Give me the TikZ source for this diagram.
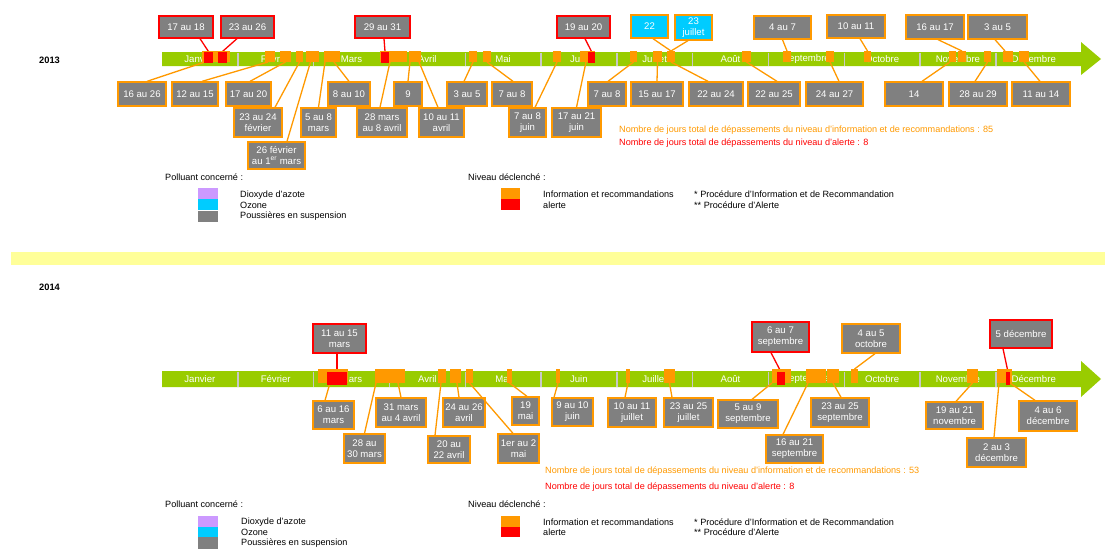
\documentclass[tikz,border=0pt]{standalone}
\usepackage{fontspec}
\setmainfont{Liberation Sans}
\definecolor{oC}{HTML}{FF9900}
\definecolor{rC}{HTML}{FF0000}
\definecolor{gC}{HTML}{808080}
\definecolor{cC}{HTML}{00CCFF}
\definecolor{pC}{HTML}{CC99FF}
\definecolor{grC}{HTML}{99CC00}
\definecolor{yC}{HTML}{FFFF99}
\definecolor{sepC}{HTML}{C8C8C8}
\newcommand\bxfont{\fontsize{9.6}{10.8}\selectfont}
\newcommand\lgfont{\fontsize{9.1}{10}\selectfont}
\newcommand\bx[7]{%
  \pgfmathsetmacro\bxcx{(#3+#5)/2}\pgfmathsetmacro\bxcy{(#4+#6)/2}%
  \pgfmathsetmacro\bxw{#5-#3}\pgfmathsetmacro\bxh{#6-#4}%
  \node[#1, minimum width=\bxw pt, minimum height=\bxh pt] (#2) at (\bxcx,\bxcy) {#7};}
\newcommand\mk[6]{\bx{#1}{#2}{#3}{#4}{#5}{#6}{}}
\begin{document}
\begin{tikzpicture}[x=1pt,y=-1pt,
  obox/.style={draw=oC, line width=1.3pt, fill=gC, text=white, font=\bxfont, inner sep=0pt, align=center},
  rbox/.style={obox, draw=rC},
  cbox/.style={obox, fill=cC},
  omk/.style={fill=oC, inner sep=0pt, outer sep=0pt},
  rmk/.style={fill=rC, inner sep=0pt, outer sep=0pt},
  oln/.style={draw=oC, line width=1.3pt},
  rln/.style={draw=rC, line width=1.3pt},
  mlab/.style={text=white, font=\bxfont, inner sep=0pt},
  sepl/.style={draw=sepC, line width=1.4pt},
  gbar/.style={fill=grC},
  lg/.style={font=\lgfont, anchor=west, inner sep=0pt},
  sw/.style={inner sep=0pt, outer sep=0pt},
  yr/.style={font=\fontsize{9.3}{11}\selectfont\bfseries, anchor=west, inner sep=0pt}]
\useasboundingbox (0,0) rectangle (1105,549);

% ---------------- 2013 ----------------
\node[yr] (y13) at (39,60) {2013};
\fill[gbar] (162,52) -- (1081,52) -- (1081,42) -- (1101,59) -- (1081,75) -- (1081,66) -- (162,66) -- cycle;
\foreach \i in {1,...,11} \draw[sepl] ({162+75.8*\i},52.5) -- ({162+75.8*\i},65.5);
\foreach \m [count=\i from 0] in {Janvier,Février,Mars,Avril,Mai,Juin,Juillet,Août,Septembre,Octobre,Novembre,Décembre}
  \node[mlab] (ma\i) at ({162+75.8*(\i+0.5)},59) {\m};

% markers 2013
\mk{omk}{m1}{202}{51}{230}{62}
\mk{omk}{m2}{265}{51}{275}{62}
\mk{omk}{m3}{280}{51}{291}{62}
\mk{omk}{m4}{296}{51}{303}{62}
\mk{omk}{m5}{306}{51}{319}{62}
\mk{omk}{m6}{324}{51}{340}{62}
\mk{omk}{m7}{380}{51}{407}{62}
\mk{omk}{m8}{409}{51}{421}{62}
\mk{omk}{m9}{469}{51}{477}{62}
\mk{omk}{m10}{483}{51}{491}{62}
\mk{omk}{m11}{553}{51}{561}{62}
\mk{omk}{m12}{580}{51}{595}{62}
\mk{omk}{m13}{630}{51}{637}{62}
\mk{omk}{m14}{653}{51}{662}{62}
\mk{omk}{m15}{667}{51}{675}{62}
\mk{omk}{m16}{742}{51}{751}{62}
\mk{omk}{m17}{783}{51}{791}{62}
\mk{omk}{m18}{826}{51}{834}{62}
\mk{omk}{m19}{864}{51}{871}{62}
\mk{omk}{m20}{949}{51}{956}{62}
\mk{omk}{m21}{958}{51}{966}{62}
\mk{omk}{m22}{984}{51}{991}{62}
\mk{omk}{m23}{1003}{51}{1013}{62}
\mk{omk}{m24}{1019}{51}{1029}{62}
\mk{rmk}{r1}{204}{51.5}{213}{62.5}
\mk{rmk}{r2}{218}{51.5}{227}{62.5}
\mk{rmk}{r3}{381}{51.5}{389}{62.5}
\mk{rmk}{r4}{588}{51.5}{595}{62.5}

% boxes 2013 top
\bx{rbox}{T1}{159}{16}{213}{38}{17 au 18}
\bx{rbox}{T2}{221}{16}{274}{38}{23 au 26}
\bx{rbox}{T3}{355}{16}{410}{38}{29 au 31}
\bx{rbox}{T4}{557}{16}{610}{38}{19 au 20}
\bx{cbox}{T5}{631}{15}{668}{38}{22}
\bx{cbox}{T6}{675}{15}{712}{40}{23\\juillet}
\bx{obox}{T7}{754}{16}{811}{39}{4 au 7}
\bx{obox}{T8}{827}{15}{885}{38}{10 au 11}
\bx{obox}{T9}{906}{15}{964}{39}{16 au 17}
\bx{obox}{T10}{968}{15}{1027}{39}{3 au 5}
% boxes 2013 bottom
\bx{obox}{B1}{118}{82}{166}{106}{16 au 26}
\bx{obox}{B2}{172}{82}{218}{106}{12 au 15}
\bx{obox}{B3}{226}{82}{271}{106}{17 au 20}
\bx{obox}{B4}{234}{108}{282}{137}{23 au 24\\février}
\bx{obox}{B5}{248}{142}{305}{169}{26 février\\au 1\textsuperscript{er} mars}
\bx{obox}{B6}{301}{108}{336}{137}{5 au 8\\mars}
\bx{obox}{B7}{328}{82}{370}{106}{8 au 10}
\bx{obox}{B8}{357}{108}{407}{137}{28 mars\\au 8 avril}
\bx{obox}{B9}{394}{82}{422}{106}{9}
\bx{obox}{B10}{419}{108}{464}{137}{10 au 11\\avril}
\bx{obox}{B11}{447}{82}{487}{106}{3 au 5}
\bx{obox}{B12}{492}{82}{532}{106}{7 au 8}
\bx{obox}{B13}{509}{108}{546}{137}{7 au 8\\juin}
\bx{obox}{B14}{552}{108}{601}{137}{17 au 21\\juin}
\bx{obox}{B15}{588}{82}{626}{106}{7 au 8}
\bx{obox}{B16}{631}{82}{683}{106}{15 au 17}
\bx{obox}{B17}{689}{82}{743}{106}{22 au 24}
\bx{obox}{B18}{748}{82}{800}{106}{22 au 25}
\bx{obox}{B19}{806}{82}{863}{106}{24 au 27}
\bx{obox}{B20}{885}{82}{943}{106}{14}
\bx{obox}{B21}{949}{82}{1007}{106}{28 au 29}
\bx{obox}{B22}{1012}{82}{1070}{106}{11 au 14}

% connectors 2013
\draw[rln] ([xshift=14]T1.south) -- (r1.north);
\draw[rln] ([xshift=-10.5]T2.south) -- (r2.north);
\draw[rln] ([xshift=1.5]T3.south) -- (r3.north);
\draw[rln] ([xshift=1.5]T4.south) -- (r4.north);
\draw[oln] ([xshift=3.5]T5.south) -- (m15.north);
\draw[oln] ([xshift=-5.5]T6.south) -- (m15.north);
\draw[oln] (T7.south) -- (m17.north);
\draw[oln] ([xshift=4]T8.south) -- (m19.north);
\draw[oln] ([xshift=3]T9.south) -- (m21.north);
\draw[oln] ([xshift=-2.5]T10.south) -- ([xshift=-3]m23.north);
\draw[oln] ([xshift=5]B1.north) -- ([xshift=-11]m1.south);
\draw[oln] ([xshift=7]B2.north) -- ([xshift=-2]m2.south);
\draw[oln] ([xshift=1.5]B3.north) -- (m3.south);
\draw[oln] ([xshift=17]B4.north) -- (m4.south);
\draw[oln] ([xshift=10.5]B5.north) -- ([xshift=-2]m5.south);
\draw[oln] (B6.north) -- ([xshift=-7]m6.south);
\draw[oln] (B7.north) -- ([xshift=2]m6.south);
\draw[oln] ([xshift=-2]B8.north) -- ([xshift=-3.5]m7.south);
\draw[oln] (B9.north) -- ([xshift=-5]m8.south);
\draw[oln] ([xshift=-3.5]B10.north) -- ([xshift=4]m8.south);
\draw[oln] ([xshift=-3]B11.north) -- (m9.south);
\draw[oln] ([xshift=1]B12.north) -- (m10.south);
\draw[oln] ([xshift=7.5]B13.north) -- (m11.south);
\draw[oln] (B14.north) -- ([xshift=-1.5]m12.south);
\draw[oln] ([xshift=1]B15.north) -- (m13.south);
\draw[oln] (B16.north) -- (m14.south);
\draw[oln] ([xshift=-8]B17.north) -- (m15.south);
\draw[oln] ([xshift=3]B18.north) -- (m16.south);
\draw[oln] ([xshift=4.5]B19.north) -- (m18.south);
\draw[oln] ([xshift=8]B20.north) -- ([xshift=-2.5]m20.south);
\draw[oln] ([xshift=-3]B21.north) -- (m22.south);
\draw[oln] ([xshift=-1]B22.north) -- (m24.south);
% markers redrawn on top of connectors
\foreach \n in {m1,m2,m3,m4,m5,m6,m7,m8,m9,m10,m11,m12,m13,m14,m15,m16,m17,m18,m19,m20,m21,m22,m23,m24}
  \fill[oC] (\n.north west) rectangle (\n.south east);
\foreach \n in {r1,r2,r3,r4} \fill[rC] (\n.north west) rectangle (\n.south east);

\node[lg, text=oC] (c13a) at (619,130) {Nombre de jours total de dépassements du niveau d'information et de recommandations : 85};
\node[lg, text=rC] (c13b) at (619,143) {Nombre de jours total de dépassements du niveau d'alerte : 8};

% legend 2013
\node[lg] (p13) at (165,177) {Polluant concerné :};
\bx{sw, fill=pC}{s13a}{198}{188}{218}{199}{}
\bx{sw, fill=cC}{s13b}{198}{199}{218}{209.5}{}
\bx{sw, fill=gC}{s13c}{198}{211}{218}{222}{}
\node[lg] (l13a) at (240,195) {Dioxyde d'azote};
\node[lg] (l13b) at (240,205.5) {Ozone};
\node[lg] (l13c) at (240,216.5) {Poussières en suspension};
\node[lg] (n13) at (468,177) {Niveau déclenché :};
\bx{sw, fill=oC}{s13d}{501}{188}{520}{199}{}
\bx{sw, fill=rC}{s13e}{501}{199}{520}{210}{}
\node[lg] (l13d) at (543,194) {Information et recommandations};
\node[lg] (l13e) at (543,205) {alerte};
\node[lg] (l13f) at (694,194) {* Procédure d'Information et de Recommandation};
\node[lg] (l13g) at (694,205) {** Procédure d'Alerte};

% separator band
\fill[yC] (11,252) rectangle (1105,265);

% ---------------- 2014 ----------------
\node[yr] (y14) at (39,287) {2014};
\fill[gbar] (162,371) -- (1081,371) -- (1081,361) -- (1101,379) -- (1081,397) -- (1081,387) -- (162,387) -- cycle;
\foreach \i in {1,...,11} \draw[sepl] ({162+75.8*\i},371.5) -- ({162+75.8*\i},386.5);
\foreach \m [count=\i from 0] in {Janvier,Février,Mars,Avril,Mai,Juin,Juillet,Août,Septembre,Octobre,Novembre,Décembre}
  \node[mlab] (mb\i) at ({162+75.8*(\i+0.5)},379) {\m};

\mk{omk}{n1}{318}{369}{348}{383}
\mk{omk}{n2}{375}{369}{388}{383}
\mk{omk}{n3}{388}{369}{405}{383}
\mk{omk}{n4}{438}{369}{446}{383}
\mk{omk}{n5}{450}{369}{461}{383}
\mk{omk}{n6}{466}{369}{473}{383}
\mk{omk}{n7}{507}{369}{512}{383}
\mk{omk}{n8}{556}{369}{560}{383}
\mk{omk}{n9}{626}{369}{630}{383}
\mk{omk}{n10}{664}{369}{675}{383}
\mk{omk}{n11}{772}{369}{791}{383}
\mk{omk}{n12}{806}{369}{826}{383}
\mk{omk}{n13}{827}{369}{839}{383}
\mk{omk}{n14}{851}{369}{858}{383}
\mk{omk}{n15}{967}{369}{978}{383}
\mk{omk}{n16}{997}{369}{1003}{383}
\mk{omk}{n17}{1003}{369}{1012}{383}
\mk{rmk}{q1}{327}{372}{347}{385}
\mk{rmk}{q2}{777}{372}{785}{385}
\mk{rmk}{q3}{1006}{372}{1010}{385}

\bx{rbox}{U1}{313}{324}{366}{353}{11 au 15\\mars}
\bx{rbox}{U2}{752}{322}{809}{352}{6 au 7\\septembre}
\bx{obox}{U3}{842}{324}{900}{353}{4 au 5\\octobre}
\bx{rbox}{U4}{990}{320}{1052}{348}{5 décembre}

\bx{obox}{V1}{313}{401}{354}{429}{6 au 16\\mars}
\bx{obox}{V2}{344}{434}{385}{463}{28 au\\30 mars}
\bx{obox}{V3}{376}{398}{426}{427}{31 mars\\au 4 avril}
\bx{obox}{V4}{428}{436}{470}{463}{20 au\\22 avril}
\bx{obox}{V5}{443}{398}{485}{427}{24 au 26\\avril}
\bx{obox}{V6}{498}{434}{539}{463}{1er au 2\\mai}
\bx{obox}{V7}{512}{397}{539}{425}{19\\mai}
\bx{obox}{V8}{552}{398}{593}{426}{9 au 10\\juin}
\bx{obox}{V9}{608}{398}{656}{427}{10 au 11\\juillet}
\bx{obox}{V10}{664}{398}{713}{427}{23 au 25\\juillet}
\bx{obox}{V11}{718}{400}{778}{428}{5 au 9\\septembre}
\bx{obox}{V12}{766}{435}{823}{463}{16 au 21\\septembre}
\bx{obox}{V13}{811}{398}{869}{427}{23 au 25\\septembre}
\bx{obox}{V14}{926}{402}{983}{429}{19 au 21\\novembre}
\bx{obox}{V15}{967}{438}{1026}{467}{2 au 3\\décembre}
\bx{obox}{V16}{1019}{401}{1077}{431}{4 au 6\\décembre}

\draw[rln] ([xshift=-2.5]U1.south) -- (q1.north);
\draw[rln] ([xshift=-9.5]U2.south) -- (q2.north);
\draw[oln] ([xshift=4]U3.south) -- (n14.north);
\draw[rln] ([xshift=-18]U4.south) -- (q3.north);
\draw[oln] ([xshift=-8.5]V1.north) -- ([xshift=-3]n1.south);
\draw[oln] (V2.north) -- ([xshift=-5.5]n2.south);
\draw[oln] (V3.north) -- ([xshift=1.5]n3.south);
\draw[oln] ([xshift=-14]V4.north) -- ([xshift=-1]n4.south);
\draw[oln] ([xshift=-5]V5.north) -- ([xshift=1.5]n5.south);
\draw[oln] ([xshift=-5.5]V6.north) -- (n6.south);
\draw[oln] ([xshift=1.5]V7.north) -- (n7.south);
\draw[oln] ([xshift=-18.5]V8.north) -- (n8.south);
\draw[oln] ([xshift=-7]V9.north) -- (n9.south);
\draw[oln] ([xshift=-16.5]V10.north) -- (n10.south);
\draw[oln] ([xshift=4]V11.north) -- ([xshift=-9.5]n11.south);
\draw[oln] ([xshift=-11.5]V12.north) -- ([xshift=-8]n12.south);
\draw[oln] ([xshift=1]V13.north) -- (n13.south);
\draw[oln] ([xshift=1.5]V14.north) -- (n15.south);
\draw[oln] ([xshift=-2.5]V15.north) -- ([xshift=-1]n16.south);
\draw[oln] ([xshift=-13]V16.north) -- ([xshift=2.5]n17.south);
\foreach \n in {n1,n2,n3,n4,n5,n6,n7,n8,n9,n10,n11,n12,n13,n14,n15,n16,n17}
  \fill[oC] (\n.north west) rectangle (\n.south east);
\foreach \n in {q1,q2,q3} \fill[rC] (\n.north west) rectangle (\n.south east);

\node[lg, text=oC] (c14a) at (545,471) {Nombre de jours total de dépassements du niveau d'information et de recommandations : 53};
\node[lg, text=rC] (c14b) at (545,487) {Nombre de jours total de dépassements du niveau d'alerte : 8};

% legend 2014
\node[lg] (p14) at (165,504) {Polluant concerné :};
\bx{sw, fill=pC}{s14a}{198}{516}{218}{527}{}
\bx{sw, fill=cC}{s14b}{198}{527}{218}{537}{}
\bx{sw, fill=gC}{s14c}{198}{537}{218}{549}{}
\node[lg] (l14a) at (241,522) {Dioxyde d'azote};
\node[lg] (l14b) at (241,532.5) {Ozone};
\node[lg] (l14c) at (241,543) {Poussières en suspension};
\node[lg] (n14t) at (468,504) {Niveau déclenché :};
\bx{sw, fill=oC}{s14d}{501}{516}{520}{527}{}
\bx{sw, fill=rC}{s14e}{501}{527}{520}{537}{}
\node[lg] (l14d) at (543,522) {Information et recommandations};
\node[lg] (l14e) at (543,532.5) {alerte};
\node[lg] (l14f) at (694,522) {* Procédure d'Information et de Recommandation};
\node[lg] (l14g) at (694,532.5) {** Procédure d'Alerte};
\end{tikzpicture}
\end{document}
